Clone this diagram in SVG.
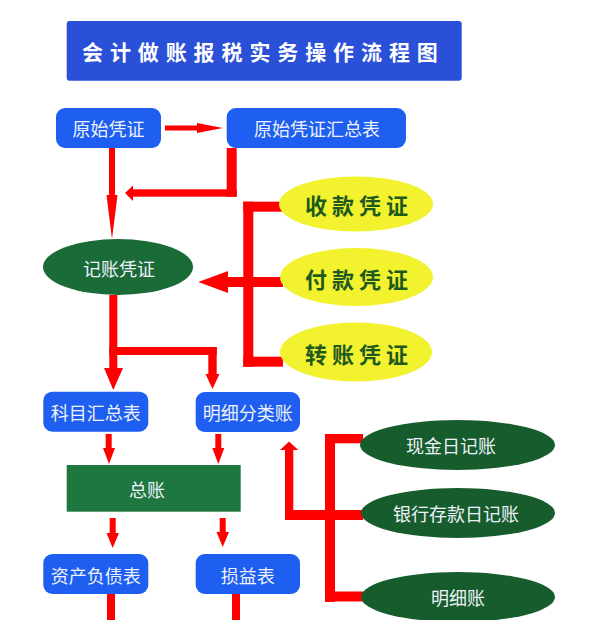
<svg xmlns="http://www.w3.org/2000/svg" width="600" height="620" viewBox="0 0 600 620">
<style>
.bx{fill:#1e5ef0}
.t{font-family:"Noto Sans CJK SC","Noto Sans",sans-serif;font-size:18px;fill:#eef2fa;text-anchor:middle;dominant-baseline:central}
.ty{font-family:"Noto Sans CJK SC","Noto Sans",sans-serif;font-size:22px;font-weight:bold;fill:#1e5a1e;text-anchor:middle;dominant-baseline:central;letter-spacing:5px}
.r{fill:#ff0000}
.yl{fill:#f2f22e}
.gd{fill:#165c2c}
</style>
<rect width="600" height="620" fill="#ffffff"/>
<g id="title">
<rect x="66.7" y="21" width="395" height="59.7" rx="3" fill="#2a50d8"/>
<text x="82" y="51" font-family="'Noto Sans CJK SC','Noto Sans',sans-serif" font-size="21" font-weight="bold" fill="#ffffff" dominant-baseline="central" letter-spacing="6.9">会计做账报税实务操作流程图</text>
</g>
<g id="connectors">
<rect class="r" x="165" y="125.5" width="32" height="5"/>
<polygon class="r" points="197,123 223,128 197,133"/>
<rect class="r" x="109" y="148" width="6" height="48"/>
<polygon class="r" points="106.5,195 117.5,195 112,239"/>
<rect class="r" x="226.7" y="148" width="10" height="48.7"/>
<rect class="r" x="133" y="189.3" width="103.7" height="7.4"/>
<polygon class="r" points="133,185.5 125,193 133,201"/>
<rect class="r" x="243.3" y="201.7" width="10" height="165"/>
<rect class="r" x="243.3" y="201.7" width="39.7" height="10"/>
<rect class="r" x="243.3" y="356.7" width="39.7" height="10"/>
<rect class="r" x="228" y="277" width="55" height="10"/>
<polygon class="r" points="228,271 198.3,282 228,293"/>
<rect class="r" x="109.3" y="295" width="8" height="75"/>
<rect class="r" x="109.3" y="347" width="107.4" height="8"/>
<rect class="r" x="208.3" y="347" width="8.4" height="28"/>
<polygon class="r" points="104,368 123,368 113.3,390"/>
<polygon class="r" points="205.5,374 219.5,374 212.5,389"/>
<rect class="r" x="105.7" y="434" width="6" height="15"/>
<polygon class="r" points="103,448 115,448 109,464"/>
<rect class="r" x="215.3" y="434" width="6" height="15"/>
<polygon class="r" points="212.3,448 224.3,448 218.3,464"/>
<rect class="r" x="109.7" y="518" width="6" height="16"/>
<polygon class="r" points="106.5,533 119,533 112.7,548"/>
<rect class="r" x="219.7" y="518" width="6" height="15"/>
<polygon class="r" points="216.5,532 229,532 222.7,547"/>
<rect class="r" x="107" y="594" width="8" height="26"/>
<rect class="r" x="232" y="594" width="8" height="26"/>
<rect class="r" x="325" y="434" width="10" height="168"/>
<rect class="r" x="325" y="434" width="38" height="9.3"/>
<rect class="r" x="285" y="510" width="78" height="10"/>
<rect class="r" x="325" y="591.5" width="38" height="10"/>
<rect class="r" x="285" y="449" width="8.3" height="71"/>
<polygon class="r" points="280,450 298.3,450 289,441.5"/>
</g>
<g id="yszz">
<rect class="bx" x="56" y="108" width="105" height="40" rx="9"/>
<text class="t" x="108.5" y="128">原始凭证</text>
</g>
<g id="yszzhzb">
<rect class="bx" x="226.7" y="108" width="179.3" height="40" rx="9"/>
<text class="t" x="317" y="128">原始凭证汇总表</text>
</g>
<g id="jzpz">
<ellipse cx="118" cy="267" rx="75" ry="28" fill="#1a6b38"/>
<text class="t" x="119" y="268">记账凭证</text>
</g>
<g id="skpz">
<ellipse class="yl" cx="356" cy="204" rx="77" ry="27.5"/>
<text class="ty" x="359" y="204">收款凭证</text>
</g>
<g id="fkpz">
<ellipse class="yl" cx="356.5" cy="277" rx="76.5" ry="29"/>
<text class="ty" x="359" y="278">付款凭证</text>
</g>
<g id="zzpz">
<ellipse class="yl" cx="356" cy="352" rx="76" ry="29.5"/>
<text class="ty" x="359" y="353">转账凭证</text>
</g>
<g id="kmhzb">
<rect class="bx" x="43.3" y="391.7" width="105" height="40" rx="9"/>
<text class="t" x="95.8" y="411.7">科目汇总表</text>
</g>
<g id="mxflz">
<rect class="bx" x="195.7" y="392" width="104.3" height="40" rx="9"/>
<text class="t" x="247.8" y="412">明细分类账</text>
</g>
<g id="zz">
<rect x="66.7" y="465" width="174" height="46.7" fill="#1d773f"/>
<text class="t" x="147" y="489">总账</text>
</g>
<g id="zcfzb">
<rect class="bx" x="43.3" y="554" width="105" height="40" rx="9"/>
<text class="t" x="95.8" y="575">资产负债表</text>
</g>
<g id="syb">
<rect class="bx" x="195.7" y="554" width="104.3" height="40" rx="9"/>
<text class="t" x="247.8" y="575">损益表</text>
</g>
<g id="xjrjz">
<ellipse class="gd" cx="457.5" cy="445" rx="97.5" ry="25"/>
<text class="t" x="451" y="445">现金日记账</text>
</g>
<g id="yhckrjz">
<ellipse class="gd" cx="458" cy="513" rx="97" ry="25"/>
<text class="t" x="456" y="513">银行存款日记账</text>
</g>
<g id="mxz">
<ellipse class="gd" cx="458" cy="597" rx="97" ry="25"/>
<text class="t" x="458" y="597">明细账</text>
</g>
</svg>
